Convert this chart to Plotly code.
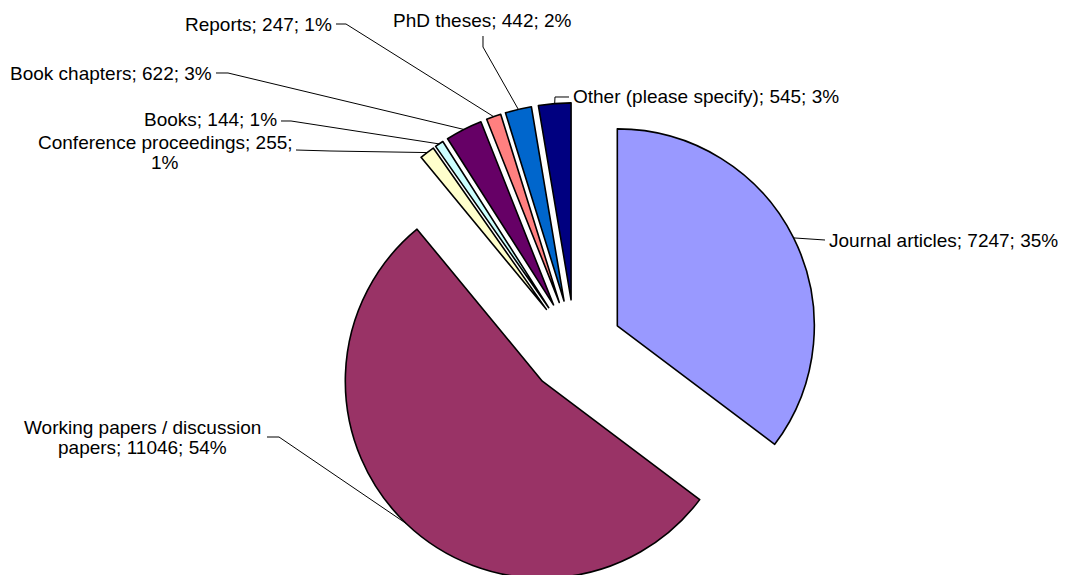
import math

import plotly.graph_objects as go

W, H = 1066, 600
PAGE_MARGIN = 8  # browser body margin shifts the whole figure by this much

# Publication types, counts and Excel-style slice colours (clockwise from 12 o'clock)
categories = ["Journal articles", "Working papers / discussion papers",
              "Conference proceedings", "Books", "Book chapters", "Reports",
              "PhD theses", "Other (please specify)"]
counts = [7247, 11046, 255, 144, 622, 247, 442, 545]
colors = ["#9999FF", "#993366", "#FFFFCC", "#CCFFFF", "#660066", "#FF8080",
          "#0066CC", "#000080"]

# where the two long labels wrap
WRAP_AFTER = {1: "discussion", 2: "255;"}

PULL = 0.24
DOM_X = [0.30, 0.7638]
DOM_Y = [0.0279, 0.8422]

# label placement in window px: text anchor x, first-line y, xanchor,
# leader points on the text side (the slice end is computed)
LABEL_POS = [
    (827, 240, "left", [(825, 240)]),
    (142, 427, "center", [(267, 437), (279, 437)]),
    (165, 142, "center", [(296, 150), (330, 151)]),
    (279, 120, "right", [(281, 121), (291, 121)]),
    (214, 73, "right", [(216, 73), (228, 73)]),
    (334, 25, "right", [(336, 24), (346, 24)]),
    (482, 20, "center", [(483, 36), (483, 47)]),
    (571, 97, "left", [(569, 97), (555, 97)]),
]
LINE_STEP = 21

FONT = dict(family="Liberation Sans, Arial, sans-serif", size=19, color="black")

fig = go.Figure(go.Pie(
    labels=categories, values=counts, sort=False, direction="clockwise",
    rotation=0, pull=[PULL] * len(counts), textinfo="none",
    hoverinfo="label+value+percent",
    marker=dict(colors=colors, line=dict(color="black", width=1.6)),
    domain=dict(x=DOM_X, y=DOM_Y), showlegend=False))

# same geometry plotly uses for the pie, so leaders hit the slice edges
r = min(W * (DOM_X[1] - DOM_X[0]), H * (DOM_Y[1] - DOM_Y[0])) / (2 + 2 * PULL)
cx = W * (DOM_X[0] + DOM_X[1]) / 2
cy = H * (2 - DOM_Y[0] - DOM_Y[1]) / 2
total = sum(counts)


def win2paper(x, y):
    return (x - PAGE_MARGIN) / W, 1 - (y - PAGE_MARGIN) / H


cum = 0
for i, (name, v) in enumerate(zip(categories, counts)):
    mid = 2 * math.pi * (cum + v / 2) / total
    cum += v
    R = r * (1 + PULL)
    tip = (cx + R * math.sin(mid) + PAGE_MARGIN,
           cy - R * math.cos(mid) + PAGE_MARGIN)

    txt = f"{name}; {v}; {round(100 * v / total)}%"
    lines = [txt]
    if i in WRAP_AFTER:
        head, tail = txt.split(WRAP_AFTER[i] + " ", 1)
        lines = [head + WRAP_AFTER[i], tail]

    tx, ty, anchor, pts = LABEL_POS[i]
    for k, line in enumerate(lines):
        ax, ay = win2paper(tx, ty + k * LINE_STEP)
        fig.add_annotation(x=ax, y=ay, xref="paper", yref="paper", text=line,
                           showarrow=False, xanchor=anchor, yanchor="middle",
                           font=FONT)

    path = " L ".join("{:.5f},{:.5f}".format(*win2paper(*p)) for p in pts + [tip])
    fig.add_shape(type="path", path="M " + path, xref="paper", yref="paper",
                  line=dict(color="black", width=1))

fig.update_layout(width=W, height=H, margin=dict(l=0, r=0, t=0, b=0),
                  paper_bgcolor="white", plot_bgcolor="white", showlegend=False)

fig.write_html("out.html")
